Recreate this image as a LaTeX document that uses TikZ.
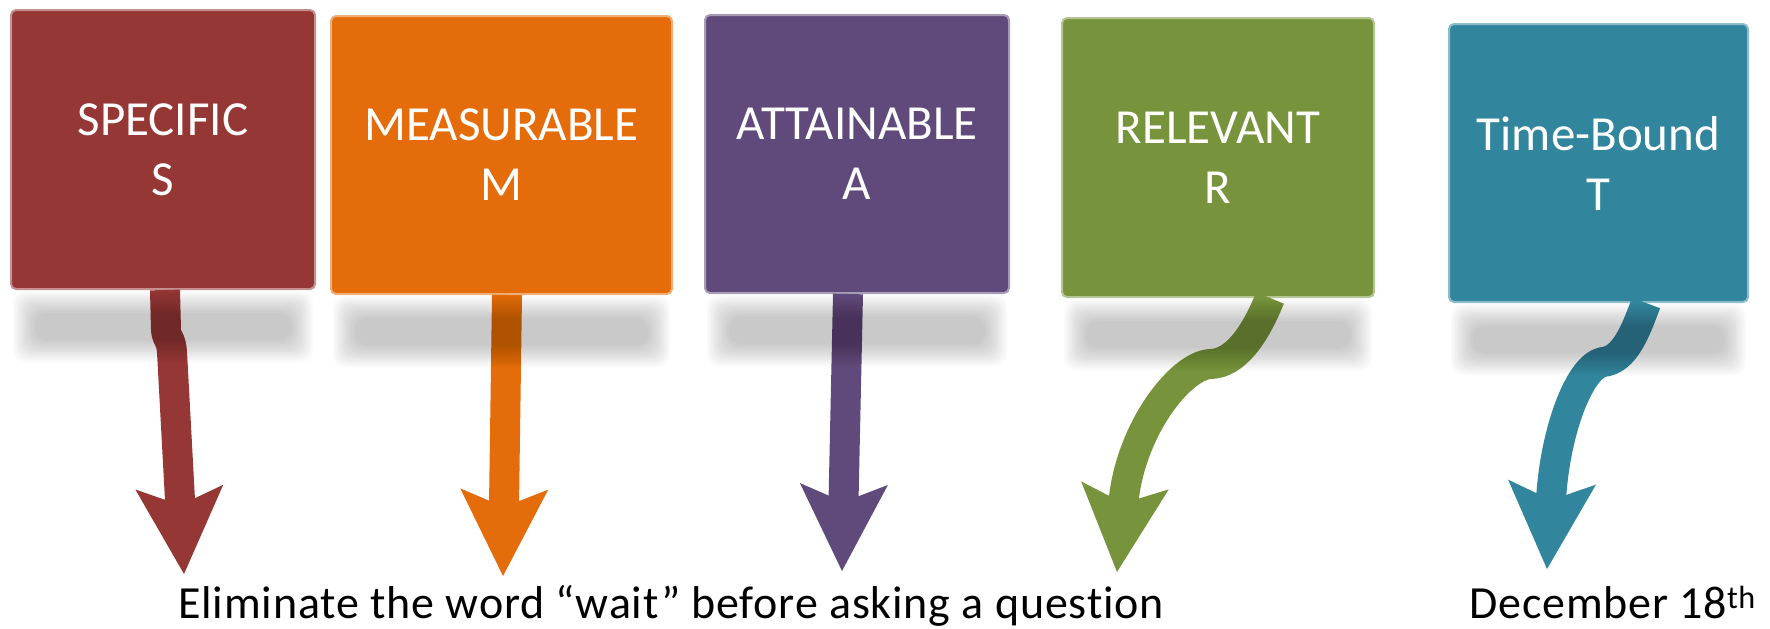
\documentclass[tikz,border=0pt]{standalone}
\usepackage{fontspec}
\setmainfont{Carlito}
\usetikzlibrary{arrows.meta,calc}
\definecolor{sred}{HTML}{953735}
\definecolor{morange}{HTML}{E46C0A}
\definecolor{apurple}{HTML}{604A7B}
\definecolor{rgreen}{HTML}{77933C}
\definecolor{tteal}{HTML}{31859C}
\begin{document}
\begin{tikzpicture}[x=1pt, y=-1pt, line join=round,
	box/.style={rounded corners=5pt, line width=2pt, text=white, align=center, inner sep=0pt, font=\fontsize{49}{60}\selectfont},
	arr/.style={line width=30pt, -{Stealth[length=87pt, width=88pt, inset=18pt, line width=0pt]}},
	caption/.style={anchor=base west, inner sep=0pt, font=\fontsize{46}{54}\selectfont\addfontfeatures{LetterSpace=1.8,Ligatures=NoCommon}}]
	\useasboundingbox (0,0) rectangle (1770,629);
	\node[box, fill=sred, draw=sred!55!white, minimum width=304pt, minimum height=279pt] (s) at (163,149.5) {SPECIFIC\\S};
	\node[box, fill=morange, draw=morange!55!white, minimum width=341pt, minimum height=278pt] (m) at (501.5,155) {MEASURABLE\\M};
	\node[box, fill=apurple, draw=apurple!55!white, minimum width=304pt, minimum height=278pt] (a) at (857,154) {ATTAINABLE\\A};
	\node[box, fill=rgreen, draw=rgreen!55!white, minimum width=312pt, minimum height=279pt] (r) at (1218,157.5) {RELEVANT\\R};
	\node[box, fill=tteal, draw=tteal!55!white, minimum width=299pt, minimum height=278pt] (t) at (1598.5,163) {Time-Bound\\T};
	\node[caption] (goal) at (178,618) {Eliminate the word “wait” before asking a question};
	\node[caption] (date) at (1469,618) {December 18\textsuperscript{th}};
	\coordinate (s-tip) at (184,574);
	\coordinate (m-tip) at (503,576);
	\coordinate (a-tip) at (842,571);
	\coordinate (r-tip) at (1117,572);
	\coordinate (t-tip) at (1547,569);
	\draw[arr, sred] ($(s.south)+(2,0)$) -- (166,330) .. controls (167,340) and (171,338) .. (172,352) -- (s-tip);
	\draw[arr, morange] ($(m.south)+(5.5,0)$) -- (m-tip);
	\draw[arr, apurple] ($(a.south)+(-9,0)$) -- (a-tip);
	\draw[arr, rgreen] ($(r.south)+(52,0)$) .. controls (1255,335) and (1235,364) .. (1210,364) .. controls (1180,366) and (1130,430) .. (r-tip);
	\draw[arr, tteal] ($(t.south)+(47.5,0)$) .. controls (1636,330) and (1625,360) .. (1603,362) .. controls (1580,366) and (1555,430) .. (t-tip);
	\foreach \b in {s,m,a,r,t}
	\foreach \k in {0,...,11}
	\fill[black, opacity=.018, rounded corners=12pt]
	($(\b.south west)+(3+2*\k,1+2*\k)$) rectangle ($(\b.south east)+(-3-2*\k,72-2*\k)$);
\end{tikzpicture}
\end{document}
